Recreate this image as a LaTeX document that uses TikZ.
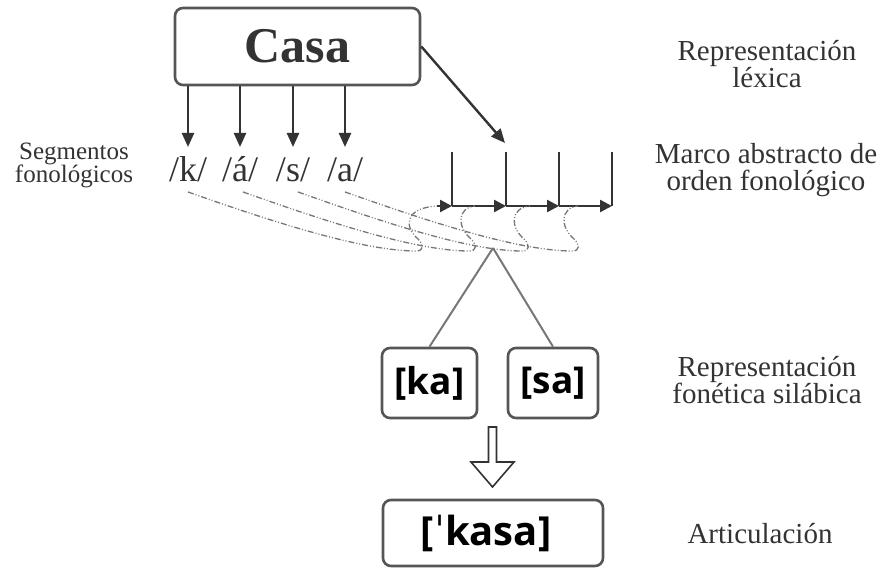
\documentclass[tikz,border=0pt]{standalone}
\usepackage{fontspec}
\setmainfont{Liberation Serif}
\newfontfamily\ipafont{Open Sans}
\newfontfamily\stressfont{DejaVu Sans}
\usetikzlibrary{arrows.meta}
\definecolor{ink}{HTML}{333333}
\definecolor{frame}{HTML}{555555}
\definecolor{soft}{HTML}{777777}
\newcommand{\stressmark}{{\stressfont\mdseries ˈ}}
\tikzset{
  box/.style={draw=frame, line width=2.6pt, rounded corners=8pt, fill=white, inner sep=0pt},
  label/.style={text=ink, align=center, inner sep=0pt, anchor=base, font=\fontsize{29}{27}\selectfont},
  phon/.style={text=ink, inner sep=0pt, anchor=base, font=\fontsize{36}{36}\selectfont},
  syl/.style={text=black, font=\ipafont\bfseries\fontsize{37}{37}\selectfont},
  down/.style={draw=ink, line width=2.4pt, -{Triangle[length=14pt,width=12pt]}},
  slot/.style={draw=ink, line width=2.4pt},
  tick/.style={draw=ink, line width=2.4pt, -{Triangle[length=12pt,width=12pt]}},
  link/.style={draw=soft, line width=1.3pt, dash pattern=on 6pt off 2pt on 1pt off 2pt on 1pt off 2pt},
  branch/.style={draw=soft, line width=2pt},
}
\begin{document}
\begin{tikzpicture}[x=1pt,y=-1pt]
\useasboundingbox (0,0) rectangle (882,569);

% lexical entry
\node[box, minimum width=245pt, minimum height=77pt, text=ink,
      font=\bfseries\fontsize{50}{50}\selectfont] (casa) at (297.5,46.5) {Casa};

% phonological segments
\node[phon] (k) at (188,182) {/k/};
\node[phon] (a1) at (240,182) {/á/};
\node[phon] (s) at (293,182) {/s/};
\node[phon] (a2) at (345,182) {/a/};
\foreach \p in {k,a1,s,a2}
  \draw[down] (casa.south -| \p) -- ([yshift=35pt]\p.base);

% abstract ordering frame
\coordinate (f0) at (437,206);
\coordinate (f1) at (452,206);
\coordinate (f2) at (506,206);
\coordinate (f3) at (559,206);
\coordinate (f4) at (612,206);
\foreach \f in {f1,f2,f3,f4}
  \draw[slot] (\f) -- ++(0,-54);
\draw[tick] (f0) -- (f1);
\draw[tick] (f1) -- (f2);
\draw[tick] (f2) -- (f3);
\draw[tick] (f3) -- (f4);
\draw[down] (casa.east) -- (505,143);

% segment-to-slot association lines
\coordinate (s1) at (188,192);
\coordinate (s2) at (243,192);
\coordinate (s3) at (298,192);
\coordinate (s4) at (345,192);
\foreach \s/\bx/\ex in {s1/422/437, s2/475/475, s3/528/530, s4/578/578}{
  \draw[link] (\s) .. controls +(60,21) and +(-60,0) .. (\bx-6,251)
     .. controls (\bx+2,251) and (\bx+2,245) .. (\bx-4,239)
     .. controls (\bx-18,227) and (\bx-18,208) .. (\ex,206);
}

% syllables
\coordinate (apex) at (493,248);
\node[box, minimum width=95pt, minimum height=70pt, syl] (ka) at (429.5,383) {[ka]};
\node[box, minimum width=90pt, minimum height=70pt, syl] (sa) at (553,383) {[sa]};
\draw[branch] (apex) -- (ka.north);
\draw[branch] (apex) -- (sa.north);

% articulation
\node[box, minimum width=220pt, minimum height=66pt, syl,
      font=\ipafont\bfseries\fontsize{40}{40}\selectfont] (kasa) at (493,533)
      {[\stressmark kasa]\hspace*{14pt}};
\draw[draw=ink, line width=1.6pt, fill=white, line join=miter]
  (488.5,427) -- (496.5,427) -- (496.5,462) -- (514,462) -- (492.5,487)
  -- (471,462) -- (488.5,462) -- cycle;

% level labels
\node[label] (lex) at (767,88) {Representación\\léxica};
\node[label] (marco) at (766,191) {Marco abstracto de\\orden fonológico};
\node[label] (fon) at (767,403) {Representación\\fonética silábica};
\node[label] (art) at (760,543) {Articulación};
\node[label, font=\fontsize{25}{20.5}\selectfont] (seg) at (74,183) {Segmentos\\fonológicos};
\end{tikzpicture}
\end{document}
